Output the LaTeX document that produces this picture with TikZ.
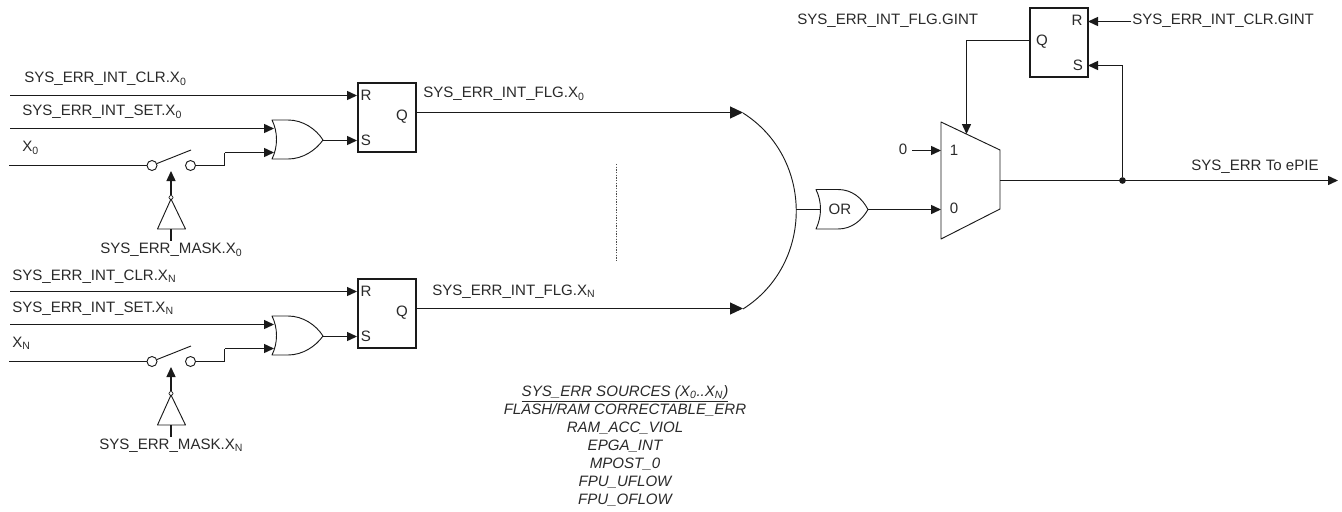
\documentclass[tikz,border=0pt]{standalone}
\usepackage{fontspec}
\setmainfont{Liberation Sans}
\usetikzlibrary{arrows.meta}
\definecolor{ink}{HTML}{1A1A1A}
\definecolor{txt}{HTML}{2A2A2A}
\tikzset{
  wire/.style={draw=ink,line width=0.9pt},
  arr/.style={wire,-{Triangle[length=7.5pt,width=6.8pt]}},
  bigarr/.style={wire,-{Triangle[length=9.75pt,width=9pt]}},
  gate/.style={draw=ink,line width=0.7pt,line join=round},
  ffbox/.style={draw=ink,line width=1.5pt,minimum width=43.5pt,minimum height=51.5pt,inner sep=0pt,fill=white},
  contact/.style={circle,draw=ink,line width=0.7pt,minimum size=7.5pt,inner sep=0pt,fill=white},
  bubble/.style={circle,draw=ink,line width=0.5pt,minimum size=3pt,inner sep=0pt,fill=white},
  lbl/.style={text=txt,font=\fontsize{11.3pt}{13pt}\selectfont,inner sep=0pt,anchor=west},
  pin/.style={text=txt,font=\fontsize{11.3pt}{13pt}\selectfont,inner sep=0pt},
  srcs/.style={text=txt,font=\fontsize{11.3pt}{13.5pt}\selectfont\itshape,align=center,inner sep=0pt},
  dotn/.style={circle,fill=ink,minimum size=5pt,inner sep=0pt}
}
\newcommand{\sigblock}[2]{%
 \begin{scope}[shift={(0,#2)}]
  \node[ffbox] (#1ff) at (386.5,117.5) {};
  \node[pin] (#1R) at (366,95.5) {R};
  \node[pin] (#1S) at (366,140.5) {S};
  \node[pin] (#1Q) at (402,117) {Q};
  \coordinate (#1clrin) at (10,95.5);
  \coordinate (#1clrend) at (357,95.5);
  \coordinate (#1setin) at (10,128.5);
  \coordinate (#1setend) at (274,128.5);
  \coordinate (#1sout) at (323,140.5);
  \coordinate (#1send) at (357,140.5);
  \coordinate (#1qout) at (416,112.5);
  \coordinate (#1qend) at (743,112.5);
  \coordinate (#1xin) at (9,165.5);
  \coordinate (#1xstepa) at (224.5,165.5);
  \coordinate (#1xstepb) at (224.5,152.5);
  \coordinate (#1xend) at (274,152.5);
  \coordinate (#1lever) at (191,150);
  \coordinate (#1inva) at (171,199);
  \coordinate (#1invb) at (157.5,229);
  \coordinate (#1invc) at (185.5,229);
  \coordinate (#1invd) at (171,229);
  \coordinate (#1inve) at (171,241);
  \coordinate (#1invtip) at (171,171);
  \node[contact] (#1c1) at (152,165.5) {};
  \node[contact] (#1c2) at (190.5,165.5) {};
  \node[bubble] (#1bub) at (171,197.5) {};
  \draw[gate] (272,120) -- (288,120) .. controls (303,120) and (316,129) .. (323,140)
     .. controls (316,150) and (303,159) .. (288,159) -- (272,159)
     .. controls (278,147) and (278,132) .. (272,120) -- cycle;
  \draw[gate] (#1inva) -- (#1invb) -- (#1invc) -- cycle;
  \draw[wire] (#1invd) -- (#1inve);
  \draw[arr] (#1bub) -- (#1invtip);
  \draw[arr] (#1clrin) -- (#1clrend);
  \draw[arr] (#1setin) -- (#1setend);
  \draw[arr] (#1sout) -- (#1send);
  \draw[bigarr] (#1qout) -- (#1qend);
  \draw[wire] (#1xin) -- (#1c1);
  \draw[gate] (#1c1) -- (#1lever);
  \draw[wire] (#1c2) -- (#1xstepa) -- (#1xstepb);
  \draw[arr] (#1xstepb) -- (#1xend);
 \end{scope}}
\begin{document}
\begin{tikzpicture}[x=0.75pt,y=-0.75pt]
\useasboundingbox (0,0) rectangle (1342,511);
\sigblock{a}{0}
\sigblock{b}{196}
% labels
\node[lbl] (l1) at (24,79) {SYS\_ERR\_INT\_CLR.X\textsubscript{0}};
\node[lbl] (l2) at (22,112) {SYS\_ERR\_INT\_SET.X\textsubscript{0}};
\node[lbl] (l3) at (22,148) {X\textsubscript{0}};
\node[lbl] (l4) at (100,250) {SYS\_ERR\_MASK.X\textsubscript{0}};
\node[lbl] (l5) at (12,277) {SYS\_ERR\_INT\_CLR.X\textsubscript{N}};
\node[lbl] (l6) at (12,309) {SYS\_ERR\_INT\_SET.X\textsubscript{N}};
\node[lbl] (l7) at (12,343) {X\textsubscript{N}};
\node[lbl] (l8) at (99,446) {SYS\_ERR\_MASK.X\textsubscript{N}};
\node[lbl] (l9) at (423,94) {SYS\_ERR\_INT\_FLG.X\textsubscript{0}};
\node[lbl] (l10) at (432,292) {SYS\_ERR\_INT\_FLG.X\textsubscript{N}};
% dotted separator
\coordinate (sepa) at (616,164);
\coordinate (sepb) at (616,262);
\draw[black!70,line width=0.5pt,dash pattern=on 1pt off 1pt] (sepa) -- (sepb);
% arc collector
\coordinate (arcT) at (743,113);
\coordinate (arcB) at (743,309);
\coordinate (arcM) at (796,209.5);
\draw[gate] (arcT) .. controls (814,158) and (814,264) .. (arcB);
% OR gate
\node[pin] (ortxt) at (840,209) {OR};
\coordinate (orin) at (820,209.5);
\coordinate (orout) at (868,209.5);
\draw[gate] (816,189.5) -- (838,189.5) .. controls (852,189.5) and (862,198) .. (orout)
   .. controls (862,220) and (852,229) .. (838,229) -- (816,229)
   .. controls (822,216) and (822,202) .. (816,189.5) -- cycle;
\draw[wire] (arcM) -- (orin);
% mux
\coordinate (muxTL) at (941,122);
\coordinate (muxTR) at (1000,150);
\coordinate (muxBR) at (1000,209);
\coordinate (muxBL) at (941,239);
\draw[gate] (muxTL) -- (muxTR) -- (muxBR) -- (muxBL) -- cycle;
\coordinate (mux0) at (941,209.5);
\coordinate (mux1) at (941,150.5);
\coordinate (muxout) at (1000,180.5);
\coordinate (muxsel) at (966.5,134);
\node[pin] (p1) at (954,150) {1};
\node[pin] (p0) at (954,208) {0};
\node[pin] (zero) at (903,149) {0};
\coordinate (zeroout) at (912,150.5);
\draw[arr] (orout) -- (mux0);
\draw[arr] (zeroout) -- (mux1);
% GINT flip-flop
\node[ffbox] (gff) at (1058.5,42.5) {};
\node[pin] (gR) at (1077,20) {R};
\node[pin] (gS) at (1078,65) {S};
\node[pin] (gQ) at (1042,42) {Q};
\coordinate (gq) at (1029,40.5);
\coordinate (gqc) at (966.5,40.5);
\coordinate (gr) at (1088,21.5);
\coordinate (gs) at (1088,65.5);
\coordinate (gclr) at (1131,21.5);
\coordinate (gsc) at (1122.5,65.5);
\node[dotn] (jn) at (1122.5,180.5) {};
\coordinate (outend) at (1338,180.5);
\draw[arr] (gq) -- (gqc) -- (muxsel);
\draw[arr] (gclr) -- (gr);
\draw[arr] (jn) -- (gsc) -- (gs);
\draw[arr] (muxout) -- (outend);
\node[lbl] (g1) at (797,21) {SYS\_ERR\_INT\_FLG.GINT};
\node[lbl] (g2) at (1132,21) {SYS\_ERR\_INT\_CLR.GINT};
\node[lbl] (g3) at (1191,167) {SYS\_ERR To ePIE};
% sources
\node[srcs] (src) at (625,446) {\underline{SYS\_ERR SOURCES (X\textsubscript{0}..X\textsubscript{N})}\\
FLASH/RAM CORRECTABLE\_ERR\\ RAM\_ACC\_VIOL\\ EPGA\_INT\\ MPOST\_0\\ FPU\_UFLOW\\ FPU\_OFLOW};
\end{tikzpicture}
\end{document}
